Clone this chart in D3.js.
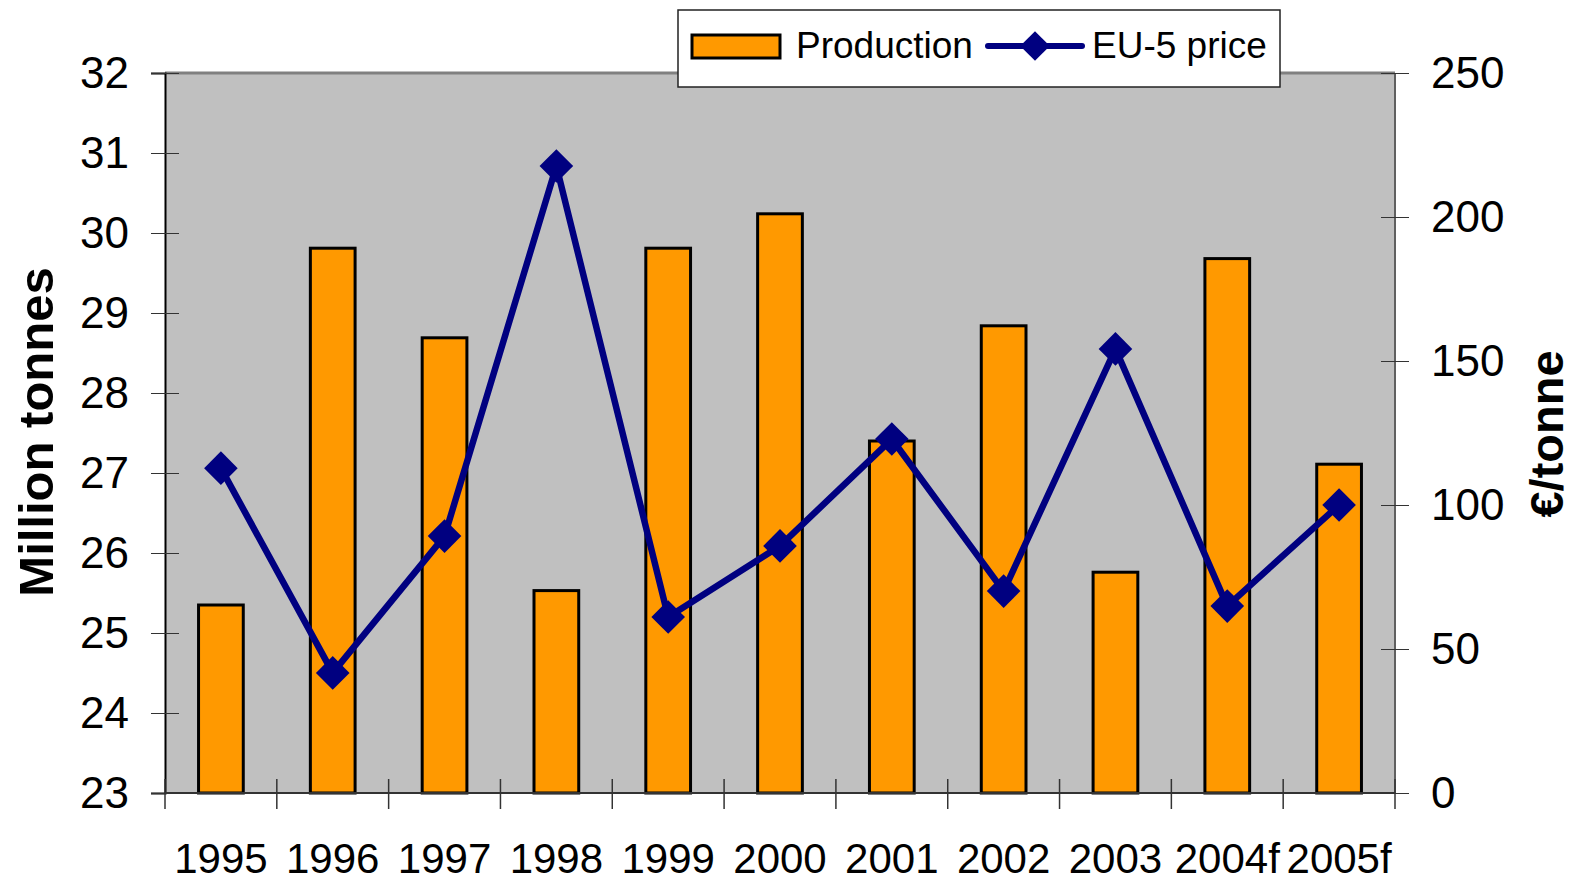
<!DOCTYPE html>
<html>
<head>
<meta charset="utf-8">
<script src="https://cdn.jsdelivr.net/npm/d3@7"></script>
<style>
	body { margin: 0; background: #fff; }
	svg { display: block; font-family: "Liberation Sans", Arial, sans-serif; }
</style>
</head>
<body>
<svg id="chart" width="1573" height="883"></svg>
<script>
let years = ['1995', '1996', '1997', '1998', '1999', '2000', '2001', '2002', '2003', '2004f', '2005f'];
let production = [25.35, 29.81, 28.69, 25.53, 29.81, 30.24, 27.4, 28.84, 25.76, 29.68, 27.11];
let price = [112.8, 41.7, 89.2, 217.7, 61.1, 85.8, 122.9, 70.1, 154.2, 64.9, 100];
let leftTicks = [23, 24, 25, 26, 27, 28, 29, 30, 31, 32];
let rightTicks = [0, 50, 100, 150, 200, 250];

let plotL = 165, plotR = 1395, plotT = 73, plotB = 793;

let svg = d3.select('#chart');

let x = d3.scaleBand()
	.domain(years)
	.range([plotL, plotR]);

let yL = d3.scaleLinear()
	.domain([23, 32])
	.range([plotB, plotT]);

let yR = d3.scaleLinear()
	.domain([0, 250])
	.range([plotB, plotT]);

// plot area
svg.append('rect')
	.attr('x', plotL)
	.attr('y', plotT)
	.attr('width', plotR - plotL)
	.attr('height', plotB - plotT)
	.attr('fill', '#c0c0c0');

// borders
svg.append('line')
	.attr('x1', plotL).attr('x2', plotR)
	.attr('y1', plotT).attr('y2', plotT)
	.attr('stroke', '#808080').attr('stroke-width', 3);
svg.append('line')
	.attr('x1', plotR).attr('x2', plotR)
	.attr('y1', plotT).attr('y2', plotB)
	.attr('stroke', '#606060').attr('stroke-width', 2);

// bars
let barW = x.bandwidth() * 0.4;
svg.append('g')
	.selectAll('rect')
	.data(production)
	.enter()
	.append('rect')
	.attr('x', (d, i) => x(years[i]) + x.bandwidth() / 2 - barW / 2)
	.attr('y', d => yL(d))
	.attr('width', barW)
	.attr('height', d => yL(23) - yL(d))
	.attr('fill', '#ff9900')
	.attr('stroke', '#000')
	.attr('stroke-width', 3);

// axes
let fs = '44px';
let gL = svg.append('g')
	.attr('transform', 'translate(' + plotL + ',0)')
	.call(d3.axisLeft(yL).tickValues(leftTicks).tickSize(14).tickPadding(22));
gL.selectAll('.tick line').attr('x2', 14).attr('x1', -14).attr('stroke', '#333');
gL.select('.domain').attr('stroke', '#000').attr('stroke-width', 2);

let gR = svg.append('g')
	.attr('transform', 'translate(' + plotR + ',0)')
	.call(d3.axisRight(yR).tickValues(rightTicks).tickSize(14).tickPadding(22));
gR.selectAll('.tick line').attr('x1', -14).attr('x2', 14).attr('stroke', '#333');
gR.select('.domain').remove();

let tickPos = years.map(d => x(d)).concat([plotR]);
let gX = svg.append('g');
gX.append('line')
	.attr('x1', plotL).attr('x2', plotR)
	.attr('y1', plotB).attr('y2', plotB)
	.attr('stroke', '#333').attr('stroke-width', 2);
gX.selectAll('line.t')
	.data(tickPos)
	.enter()
	.append('line')
	.attr('class', 't')
	.attr('x1', d => d).attr('x2', d => d)
	.attr('y1', plotB - 14).attr('y2', plotB + 16)
	.attr('stroke', '#333').attr('stroke-width', 1.5);
gX.selectAll('text')
	.data(years)
	.enter()
	.append('text')
	.attr('x', d => x(d) + x.bandwidth() / 2)
	.attr('y', 873)
	.attr('text-anchor', 'middle')
	.attr('font-size', '42px')
	.attr('fill', '#000')
	.text(d => d);

svg.selectAll('.tick text')
	.attr('font-size', fs)
	.attr('font-family', '"Liberation Sans", Arial, sans-serif')
	.attr('fill', '#000');

// price line
let line = d3.line()
	.x((d, i) => x(years[i]) + x.bandwidth() / 2)
	.y(d => yR(d));

svg.append('path')
	.datum(price)
	.attr('d', line)
	.attr('fill', 'none')
	.attr('stroke', '#000080')
	.attr('stroke-width', 6.5)
	.attr('stroke-linejoin', 'round');

let diamond = d3.symbol().type(d3.symbolDiamond2).size(720);
svg.append('g')
	.selectAll('path')
	.data(price)
	.enter()
	.append('path')
	.attr('d', diamond)
	.attr('transform', (d, i) => 'translate(' + (x(years[i]) + x.bandwidth() / 2) + ',' + yR(d) + ')')
	.attr('fill', '#000080');

// axis titles
svg.append('text')
	.attr('transform', 'translate(53,432) rotate(-90)')
	.attr('text-anchor', 'middle')
	.attr('font-size', '49px')
	.attr('font-weight', 'bold')
	.text('Million tonnes');

svg.append('text')
	.attr('transform', 'translate(1563,434) rotate(-90)')
	.attr('text-anchor', 'middle')
	.attr('font-size', '47px')
	.attr('font-weight', 'bold')
	.text('€/tonne');

// legend
let lg = svg.append('g');
lg.append('rect')
	.attr('x', 678).attr('y', 10)
	.attr('width', 602).attr('height', 77)
	.attr('fill', '#fff')
	.attr('stroke', '#222').attr('stroke-width', 1.5);
lg.append('rect')
	.attr('x', 692).attr('y', 35)
	.attr('width', 88).attr('height', 23)
	.attr('fill', '#ff9900')
	.attr('stroke', '#000').attr('stroke-width', 3);
lg.append('text')
	.attr('x', 796).attr('y', 58)
	.attr('font-size', '37px')
	.text('Production');
lg.append('line')
	.attr('x1', 988).attr('x2', 1082)
	.attr('y1', 46).attr('y2', 46)
	.attr('stroke', '#000080').attr('stroke-width', 6)
	.attr('stroke-linecap', 'round');
lg.append('path')
	.attr('d', d3.symbol().type(d3.symbolDiamond2).size(560))
	.attr('transform', 'translate(1035,46)')
	.attr('fill', '#000080');
lg.append('text')
	.attr('x', 1092).attr('y', 58)
	.attr('font-size', '37px')
	.text('EU-5 price');
</script>
</body>
</html>
